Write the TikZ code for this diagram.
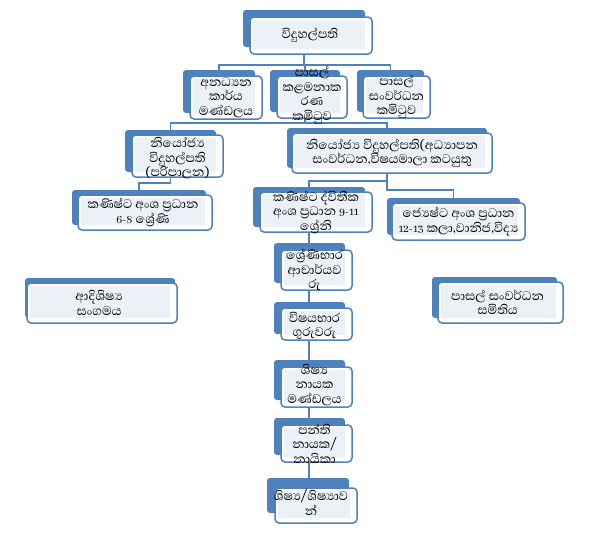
\documentclass[tikz,border=0pt]{standalone}
\usepackage{fontspec}
\newfontfamily\sinhalafont[Script=Sinhala]{Abhaya Libre}
\usetikzlibrary{backgrounds}
\definecolor{obl}{RGB}{79,129,189}
\definecolor{oin}{RGB}{236,240,247}
\newcommand\onum[1]{{\fontsize{12}{14.5}\selectfont #1}}
\tikzset{
 bluebox/.style={fill=obl, rounded corners=3pt, inner sep=0pt, outer sep=0pt},
 whitebox/.style={draw=obl, fill=white, line width=1.5pt, rounded corners=4pt, inner sep=0pt, outer sep=0pt},
 innerfill/.style={fill=oin},
 txt/.style={font=\sinhalafont\fontsize{16}{14.5}\selectfont, align=center, inner sep=0pt, text=black},
 conn/.style={draw=obl, line width=1.6pt},
}
\newcommand\obox[9]{%
 \pgfmathsetmacro\obw{#4-(#2)}%
 \pgfmathsetmacro\obh{#5-(#3)}%
 \pgfmathsetmacro\obx{(#2+#4)/2}%
 \pgfmathsetmacro\oby{(#3+#5)/2}%
 \pgfmathsetmacro\obbx{\obx+(#6)}%
 \pgfmathsetmacro\obby{\oby+(#7)}%
 \node[bluebox, minimum width=\obw pt, minimum height=\obh pt] (#1) at (\obbx,\obby) {};
 \node[whitebox, minimum width=\obw pt, minimum height=\obh pt] (#1w) at (\obx,\oby) {};
 \fill[innerfill] ({#2+2.5},{#3+2.5}) rectangle ({#4-7},{#5-5});
 \node[txt,#8] (#1t) at (\obx,\oby) {#9};
}
\begin{document}
\begin{tikzpicture}[x=1pt,y=-1pt]
\useasboundingbox (0,0) rectangle (591,544);
\obox{b1}{250}{17}{372}{54}{-7}{-7}{xshift=-1pt}{විදුහල්පති}
\obox{b2}{190}{76}{262}{119}{-7}{-6}{}{අනධ්^^^^200dයන\\කාර්ය\\මණ්ඩලය}
\obox{b3}{277}{76}{347}{118}{-7}{-6}{yshift=2pt}{පාසල්\\කළමනාක\\රණ\\කමිටුව}
\obox{b4}{363}{76}{430}{118}{-6}{-6}{}{පාසල්\\සංවර්ධන\\කමිටුව}
\obox{b5}{132}{135}{223}{177}{-7}{-5}{yshift=-2pt}{නියෝජ්^^^^200dය\\විදුහල්පති\\(පරිපාලන)}
\obox{b6}{292}{133}{492}{173}{-5}{-5}{}{නියෝජ්^^^^200dය විදුහල්පති(අධ්^^^^200dයාපන\\සංවර්ධන,විෂයමාලා කටයුතු}
\obox{b7}{78}{195}{212}{230}{-6}{-5}{xshift=-2pt}{කණිෂ්ට අංශ ප්^^^^200dරධාන\\\onum{6-8} ශ්^^^^200dරේණි}
\obox{b8}{260}{192}{372}{232}{-7}{-5}{}{කණිෂ්ට ද්විතීක\\අංශ ප්^^^^200dරධාන \onum{9-11}\\ශ්^^^^200dරේනි}
\obox{b9}{392}{203}{525}{240}{-5}{-5}{}{ජ්^^^^200dයෙෂ්ට අංශ ප්^^^^200dරධාන\\\onum{12-13} කලා,වානිජ,විද්^^^^200dය}
\obox{b10}{27}{283}{177}{323}{-2}{-5}{xshift=-3pt}{ආදිශිෂ්^^^^200dය\\සංගමය}
\obox{b11}{438}{282}{563}{323}{-6}{-5}{xshift=-3pt}{පාසල් සංවර්ධන\\සමිතිය}
\obox{b12}{281}{250}{352}{290}{-7}{-7}{xshift=-2pt}{ශ්^^^^200dරේණිභාර\\ආචාර්යව\\රු}
\obox{b13}{281}{308}{352}{340}{-7}{-6}{xshift=-2pt,yshift=-2pt}{විෂයභාර\\ගුරුවරු}
\obox{b14}{281}{367}{352}{407}{-7}{-7}{xshift=-2pt,yshift=2pt}{ශිෂ්^^^^200dය\\නායක\\මණ්ඩලය}
\obox{b15}{281}{425}{352}{462}{-7}{-7}{xshift=-2pt}{පන්ති\\නායක/\\නායිකා}
\obox{b16}{275}{488}{357}{523}{-8}{-10}{xshift=-5pt,yshift=3pt}{ශිෂ්^^^^200dය/ශිෂ්^^^^200dයාව\\න්}
\coordinate (j1) at (0,65);
\coordinate (j2) at (0,123);
\coordinate (j3) at (0,183);
\coordinate (j4) at (0,181);
\coordinate (j5) at (0,190);
\begin{pgfonlayer}{background}
\draw[conn] (b1.center) -- (b1.center|-j1) -| (b2.center);
\draw[conn] (b1.center|-j1) -| (b3.center);
\draw[conn] (b1.center|-j1) -| (b4.center);
\draw[conn] (b3.center) -- (b3.center|-j2) -| (b5.center);
\draw[conn] (b3.center|-j2) -| (b6.center);
\draw[conn] (b5.center) -- (b5.center|-j3) -| (b7.center);
\draw[conn] (b6.center) -- (b6.center|-j4) -| (b8.center);
\draw[conn] (b6.center) -- (b6.center|-j5) -| (b9.center);
\draw[conn] (b8.center) -- (b8.center|-b16.center);
\end{pgfonlayer}
\end{tikzpicture}
\end{document}
